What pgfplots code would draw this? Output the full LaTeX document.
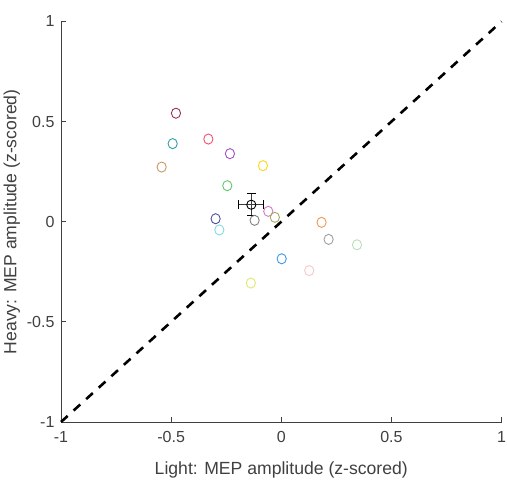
\documentclass[border=0pt]{standalone}
\usepackage{pgfplots}
\pgfplotsset{compat=1.18}
\usepackage{fontspec}
\setmainfont{Liberation Sans}
\definecolor{axgray}{HTML}{404040}
\begin{document}
\begin{tikzpicture}
\path[use as bounding box] (0,0) rectangle (507pt,486pt);
\begin{axis}[
  at={(61pt,64pt)}, anchor=south west,
  scale only axis, width=440.5pt, height=400.5pt,
  xmin=-1, xmax=1, ymin=-1, ymax=1,
  axis lines*=left,
  axis line style={axgray, line width=0.8pt},
  tick align=inside,
  major tick length=5pt,
  tick style={axgray, line width=0.8pt},
  xtick={-1,-0.5,0,0.5,1}, ytick={-1,-0.5,0,0.5,1},
  xticklabels={-1,-0.5,0,0.5,1}, yticklabels={-1,-0.5,0,0.5,1},
  ticklabel style={font=\fontsize{16}{19}\selectfont, text=axgray},
  xticklabel style={yshift=-6pt},
  yticklabel style={xshift=-3pt},
  xlabel={Light: MEP amplitude (z-scored)},
  ylabel={Heavy: MEP amplitude (z-scored)},
  label style={font=\fontsize{17.6}{21}\selectfont, text=axgray},
  xlabel style={yshift=-12pt},
  ylabel style={yshift=0pt},
  clip=false,
  every axis plot/.append style={only marks, mark=o, mark size=4.6pt, line width=0.9pt, mark options={yscale=1.1}},
]
\addplot[black, dashed, no markers, sharp plot, line width=2.6pt, dash pattern=on 9pt off 8pt] coordinates {(-1,-1) (1,1)};
\addplot[color={rgb,255:red,160;green,48;blue,74}] coordinates {(-0.478,0.542)};
\addplot[color={rgb,255:red,48;green,160;blue,168}] coordinates {(-0.493,0.390)};
\addplot[color={rgb,255:red,240;green,80;blue,112}] coordinates {(-0.331,0.413)};
\addplot[color={rgb,255:red,160;green,80;blue,192}] coordinates {(-0.233,0.340)};
\addplot[color={rgb,255:red,200;green,152;blue,96}] coordinates {(-0.543,0.273)};
\addplot[color={rgb,255:red,248;green,216;blue,32}] coordinates {(-0.083,0.280)};
\addplot[color={rgb,255:red,96;green,200;blue,112}] coordinates {(-0.245,0.180)};
\addplot[color={rgb,255:red,80;green,80;blue,160}] coordinates {(-0.298,0.015)};
\addplot[color={rgb,255:red,136;green,216;blue,232}] coordinates {(-0.281,-0.041)};
\addplot[color={rgb,255:red,128;green,128;blue,128}] coordinates {(-0.121,0.007)};
\addplot[color={rgb,255:red,216;green,120;blue,200}] coordinates {(-0.059,0.052)};
\addplot[color={rgb,255:red,168;green,168;blue,96}] coordinates {(-0.029,0.022)};
\addplot[color={rgb,255:red,240;green,152;blue,80}] coordinates {(0.183,-0.003)};
\addplot[color={rgb,255:red,160;green,160;blue,160}] coordinates {(0.215,-0.088)};
\addplot[color={rgb,255:red,184;green,224;blue,184}] coordinates {(0.344,-0.115)};
\addplot[color={rgb,255:red,64;green,152;blue,224}] coordinates {(0.002,-0.185)};
\addplot[color={rgb,255:red,248;green,200;blue,200}] coordinates {(0.127,-0.244)};
\addplot[color={rgb,255:red,224;green,232;blue,112}] coordinates {(-0.138,-0.306)};
\addplot[black, line width=0.9pt, mark options={yscale=1},
  error bars/.cd, x dir=both, y dir=both, x explicit, y explicit,
  error mark=|, error mark options={black, line width=0.9pt, mark size=4.5pt, rotate=0},
  error bar style={line width=0.9pt, color={rgb,255:red,60;green,60;blue,60}}]
  coordinates {(-0.136,0.085) +- (0.057,0.056)};
\end{axis}
\end{tikzpicture}
\end{document}
